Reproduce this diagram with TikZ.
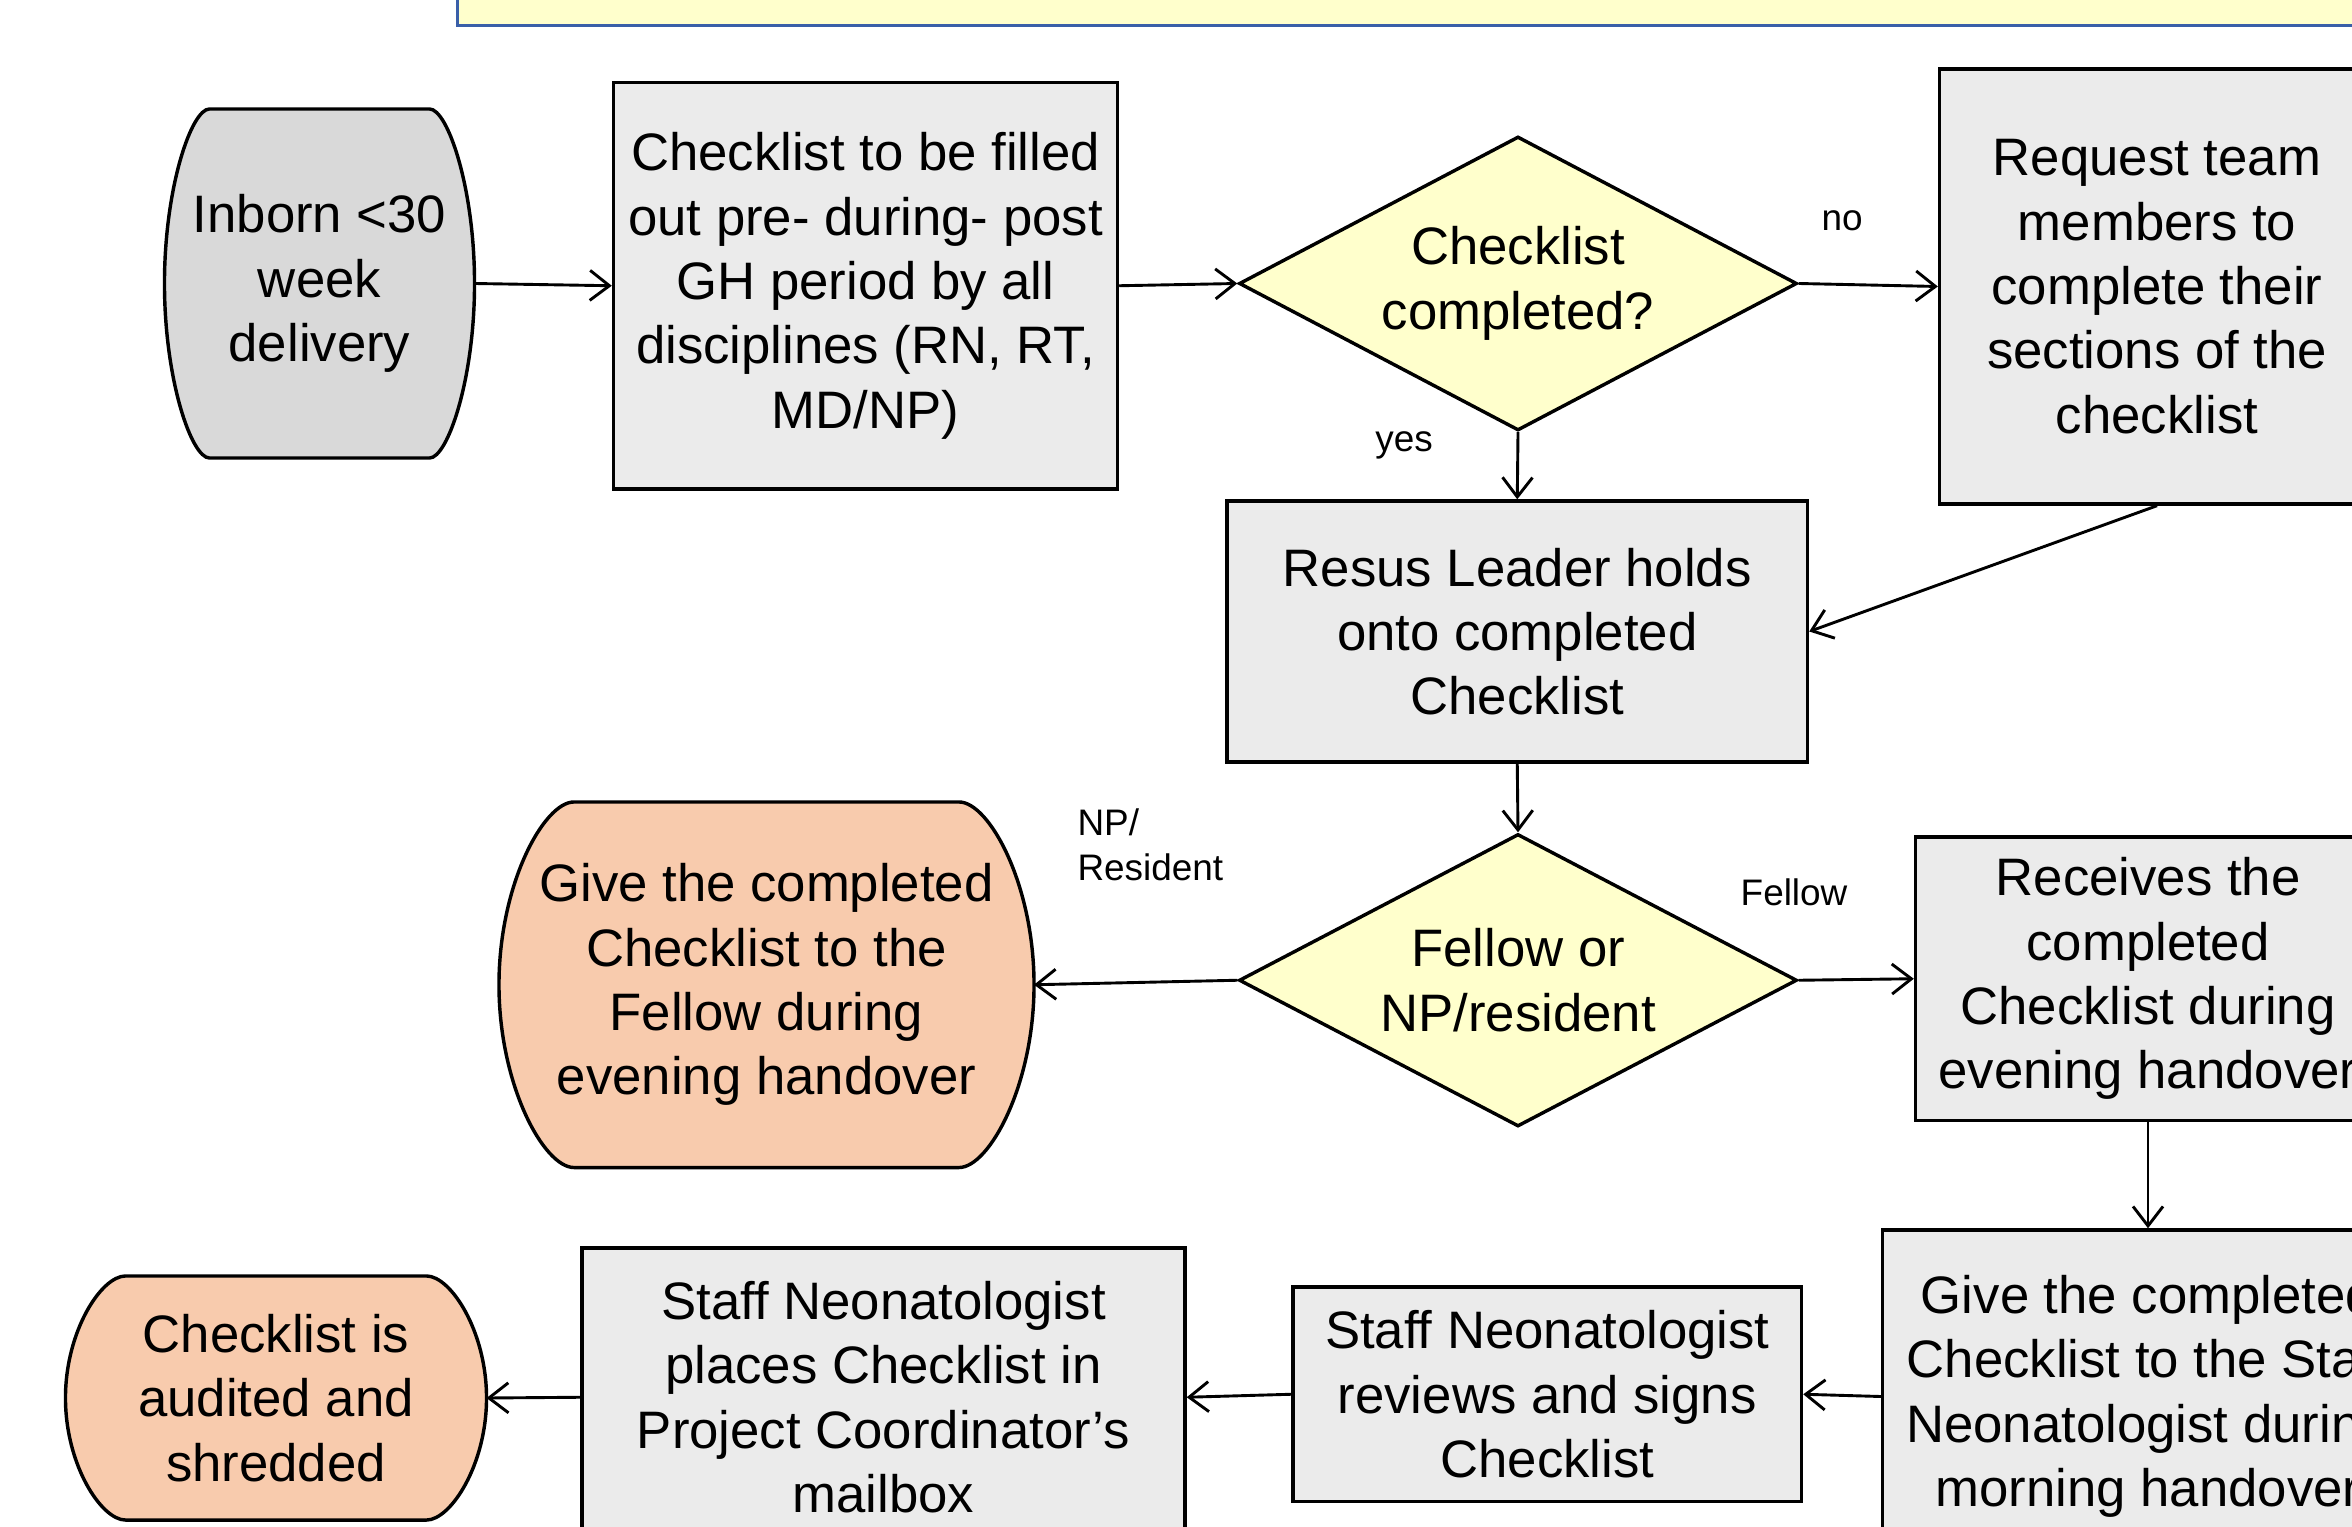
\documentclass[tikz,border=0pt]{standalone}
\usepackage{fontspec}
\setmainfont{Liberation Sans}
\usetikzlibrary{shapes.geometric}
\usetikzlibrary{arrows.meta}
\usetikzlibrary{calc}
\usetikzlibrary{backgrounds}

\definecolor{boxgray}{HTML}{EBEBEB}
\definecolor{startgray}{HTML}{D9D9D9}
\definecolor{endorange}{HTML}{F8CBAD}
\definecolor{askyellow}{HTML}{FFFFCC}
\definecolor{bannerblue}{HTML}{3A5FA8}

\tikzset{
	stepbox/.style={draw, line width=1.3pt, fill=boxgray, align=center, inner sep=0pt,
		font=\fontsize{20}{24.4}\selectfont},
	askbox/.style={diamond, aspect=1.9, draw, line width=1.3pt, fill=askyellow, align=center, inner sep=0pt,
		font=\fontsize{20}{24.4}\selectfont},
	capsule/.style={align=center, inner sep=0pt, font=\fontsize{20}{24.4}\selectfont},
	flow/.style={->, line width=1.1pt},
	tag/.style={font=\fontsize{14}{17}\selectfont, align=left, inner sep=0pt}
}

% outline of a capsule node: flat top and bottom, bulging sides
\newcommand{\drawcapsule}[3]{%
	\draw[line width=1.3pt, fill=#3] let \p1=(#1.north west), \p2=(#1.south east), \n1={(\y1-\y2)/2} in
		(\x1+#2, \y1) -- (\x2-#2, \y1)
		.. controls (\x2-0.6*#2, \y1) and (\x2, \y1-0.45*\n1) .. (\x2, \y1-\n1)
		.. controls (\x2, \y2+0.45*\n1) and (\x2-0.6*#2, \y2) .. (\x2-#2, \y2)
		-- (\x1+#2, \y2)
		.. controls (\x1+0.6*#2, \y2) and (\x1, \y2+0.45*\n1) .. (\x1, \y2+\n1)
		.. controls (\x1, \y1-0.45*\n1) and (\x1+0.6*#2, \y1) .. cycle;
}

\begin{document}
\begin{tikzpicture}[x=1cm, y=-1cm, >={Straight Barb[length=2.6mm, width=4mm]}]
		\useasboundingbox (0,0) rectangle (31.36,20.36);
		\clip (0,0) rectangle (31.36,20.36);
		
		% Banner at the top
		\draw[line width=1.5pt, draw=bannerblue, fill=askyellow] (6.10,-1) rectangle (33,0.34);
		
		% Top row
		\node[capsule, minimum width=4.12cm, minimum height=4.64cm] (inborn) at (4.26,3.78) {Inborn <30\\week\\delivery};
		\node[stepbox, minimum width=6.72cm, minimum height=5.42cm] (fill) at (11.54,3.81)
			{Checklist to be filled\\out pre- during- post\\GH period by all\\disciplines (RN, RT,\\MD/NP)};
		\node[askbox, minimum width=7.44cm, minimum height=3.92cm] (done) at (20.24,3.78) {Checklist\\completed?};
		\node[stepbox, minimum width=5.8cm, minimum height=5.8cm] (request) at (28.76,3.82)
			{Request team\\members to\\complete their\\sections of the\\checklist};
		
		% Middle
		\node[stepbox, minimum width=7.74cm, minimum height=3.48cm] (resus) at (20.23,8.42)
			{Resus Leader holds\\onto completed\\Checklist};
		\node[askbox, minimum width=7.44cm, minimum height=3.9cm] (route) at (20.24,13.07) {Fellow or\\NP/resident};
		\node[capsule, minimum width=7.12cm, minimum height=4.86cm] (givefellow) at (10.22,13.13)
			{Give the completed\\Checklist to the\\Fellow during\\evening handover};
		\node[stepbox, minimum width=6.2cm, minimum height=3.78cm] (receive) at (28.64,13.05)
			{Receives the\\completed\\Checklist during\\evening handover};
		
		% Bottom row
		\node[stepbox, minimum width=7.08cm, minimum height=4.44cm] (givestaff) at (28.64,18.62)
			{Give the completed\\Checklist to the Staff\\Neonatologist during\\morning handover};
		\node[stepbox, minimum width=6.78cm, minimum height=2.86cm] (review) at (20.63,18.59)
			{Staff Neonatologist\\reviews and signs\\Checklist};
		\node[stepbox, minimum width=8.04cm, minimum height=3.98cm] (places) at (11.78,18.63)
			{Staff Neonatologist\\places Checklist in\\Project Coordinator’s\\mailbox};
		\node[capsule, minimum width=5.6cm, minimum height=3.24cm] (audited) at (3.68,18.64)
			{Checklist is\\audited and\\shredded};
		
		% Outlines of the capsules
		\begin{scope}[on background layer]
			\drawcapsule{inborn}{0.6cm}{startgray}
			\drawcapsule{givefellow}{1cm}{endorange}
			\drawcapsule{audited}{0.8cm}{endorange}
		\end{scope}
		
		% Connectors
		\draw[flow] (inborn.east) -- (fill.west);
		\draw[flow] (fill.east) -- (done.west);
		\draw[flow] (done.east) -- (request.west);
		\draw[flow] (done.south) -- (resus.north);
		\draw[flow] (request.south) -- (resus.east);
		\draw[flow] (resus.south) -- (route.north);
		\draw[flow] (route.west) -- (givefellow.east);
		\draw[flow] (route.east) -- (receive.west);
		\draw[flow] (receive.south) -- (givestaff.north);
		\draw[flow] (givestaff.west) -- (review.east);
		\draw[flow] (review.west) -- (places.east);
		\draw[flow] (places.west) -- (audited.east);
		
		% Branch labels
		\node[tag] (no) at (24.56,2.94) {no};
		\node[tag] (yes) at (18.72,5.94) {yes};
		\node[tag, anchor=west] (npres) at (14.36,11.26) {NP/\\Resident};
		\node[tag] (fellow) at (23.92,11.9) {Fellow};
	\end{tikzpicture}
\end{document}
